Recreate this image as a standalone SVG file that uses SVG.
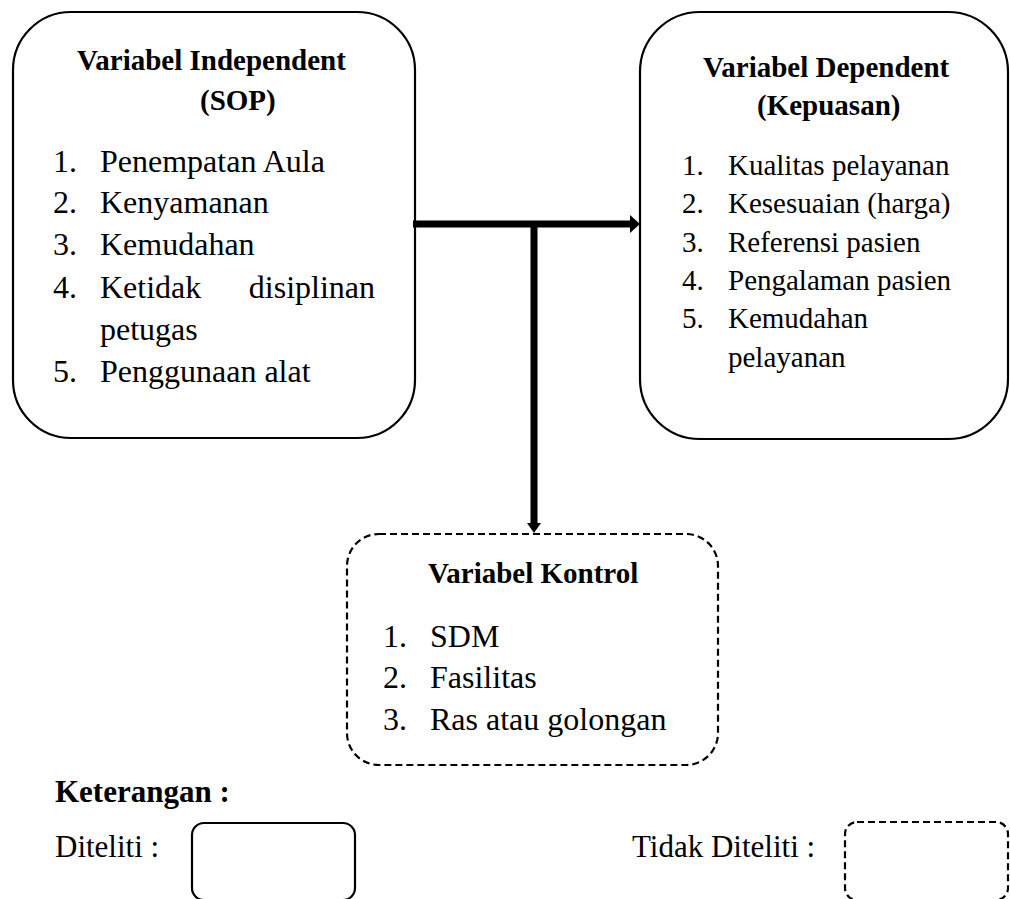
<svg xmlns="http://www.w3.org/2000/svg" width="1010" height="899" viewBox="0 0 1010 899" font-family="Liberation Serif, serif">
<style>
.t { font-weight: bold; font-size: 29px; }
.b { font-size: 32px; }
.s { font-size: 29px; }
.l { font-size: 31px; }
.box { fill: #fff; stroke: #000; stroke-width: 2.2; }
.dash { fill: #fff; stroke: #000; stroke-width: 2.2; stroke-dasharray: 7 4; }
.conn { stroke: #000; stroke-width: 7; fill: none; }
.head { fill: #000; }
</style>
<rect width="1010" height="899" fill="#fff"/>
<g id="independent">
<rect class="box" x="13" y="12" width="402" height="426" rx="58"/>
<text class="t" x="77" y="70">Variabel Independent</text>
<text class="t" x="200" y="110">(SOP)</text>
<text class="b" x="53" y="172">1.</text><text class="b" x="100" y="172">Penempatan Aula</text>
<text class="b" x="53" y="213">2.</text><text class="b" x="100" y="213">Kenyamanan</text>
<text class="b" x="53" y="255">3.</text><text class="b" x="100" y="255">Kemudahan</text>
<text class="b" x="53" y="298">4.</text><text class="b" x="100" y="298">Ketidak</text><text class="b" x="375" y="298" text-anchor="end">disiplinan</text>
<text class="b" x="100" y="340">petugas</text>
<text class="b" x="53" y="382">5.</text><text class="b" x="100" y="382">Penggunaan alat</text>
</g>
<g id="dependent">
<rect class="box" x="640" y="12" width="368" height="427" rx="60"/>
<text class="t" x="703" y="77">Variabel Dependent</text>
<text class="t" x="757" y="115">(Kepuasan)</text>
<text class="s" x="682" y="175">1.</text><text class="s" x="728" y="175">Kualitas pelayanan</text>
<text class="s" x="682" y="213">2.</text><text class="s" x="728" y="213">Kesesuaian (harga)</text>
<text class="s" x="682" y="252">3.</text><text class="s" x="728" y="252">Referensi pasien</text>
<text class="s" x="682" y="290">4.</text><text class="s" x="728" y="290">Pengalaman pasien</text>
<text class="s" x="682" y="328">5.</text><text class="s" x="728" y="328">Kemudahan</text>
<text class="s" x="728" y="367">pelayanan</text>
</g>
<g id="kontrol">
<rect class="dash" x="347" y="534" width="371" height="231" rx="32"/>
<text class="t" x="428" y="583">Variabel Kontrol</text>
<text class="b" x="383" y="647">1.</text><text class="b" x="430" y="647">SDM</text>
<text class="b" x="383" y="688">2.</text><text class="b" x="430" y="688">Fasilitas</text>
<text class="b" x="383" y="730">3.</text><text class="b" x="430" y="730">Ras atau golongan</text>
</g>
<g id="connectors">
<line class="conn" x1="413" y1="224" x2="632" y2="224"/>
<polygon class="head" points="630,215 640,224 630,233"/>
<line class="conn" x1="534" y1="221" x2="534" y2="524"/>
<polygon class="head" points="527,523 541,523 534,533"/>
</g>
<g id="legend">
<text class="l" font-weight="bold" x="55" y="802">Keterangan :</text>
<text class="l" x="55" y="857">Diteliti :</text>
<rect class="box" x="192" y="823" width="163" height="77" rx="12"/>
<text class="l" x="632" y="857">Tidak Diteliti :</text>
<rect class="dash" x="845" y="822" width="163" height="78" rx="12"/>
</g>
</svg>
